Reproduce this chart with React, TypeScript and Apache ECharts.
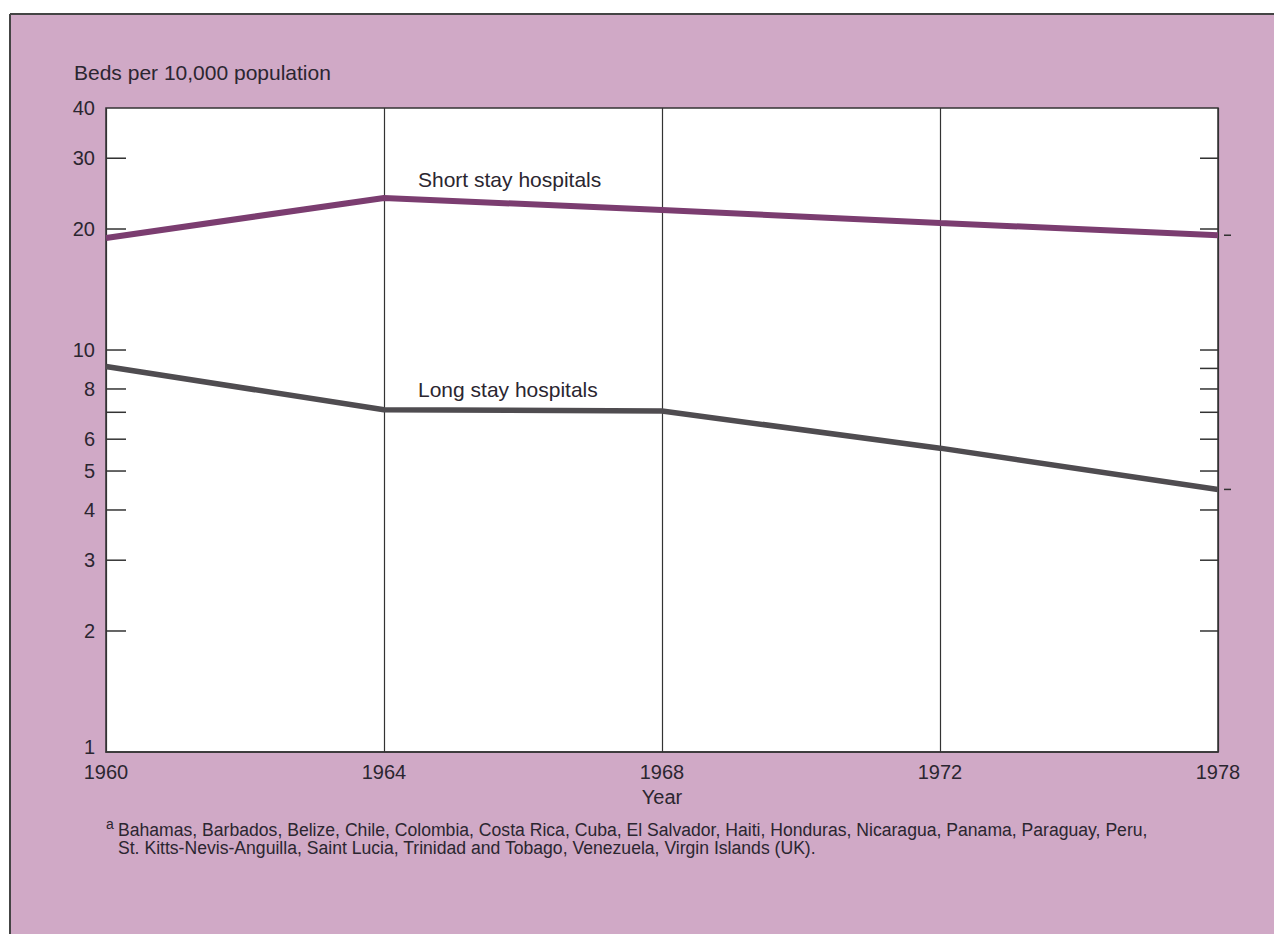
import React, { useEffect, useRef } from "react";
import * as echarts from "echarts";

const years = ["1960", "1964", "1968", "1972", "1978"];
const shortStay = [19.0, 23.9, 22.3, 20.7, 19.3];
const longStay = [9.1, 7.1, 7.05, 5.7, 4.5];
const tickValues = [2, 3, 4, 5, 6, 7, 8, 9, 10, 20, 30];
const labelValues = [1, 2, 3, 4, 5, 6, 8, 10, 20, 30, 40];
const endValues = [shortStay[shortStay.length - 1], longStay[longStay.length - 1]];

const FONT = "'Liberation Sans', Arial, Helvetica, sans-serif";
const INK = "#2b2630";

export default function App() {
  const ref = useRef<HTMLDivElement>(null);
  useEffect(() => {
    if (!ref.current) return;
    const chart = echarts.init(ref.current, null, { renderer: "svg" });
    const last = years.length - 1;
    chart.setOption({
      animation: false,
      backgroundColor: "#d0a9c6",
      grid: {
        left: 106,
        right: 56,
        top: 108,
        bottom: 182,
        show: true,
        backgroundColor: "#ffffff",
        borderColor: "#333",
        borderWidth: 1.5,
      },
      xAxis: {
        type: "category",
        data: years,
        boundaryGap: false,
        axisLine: { show: true, lineStyle: { color: "#333", width: 1.5 } },
        axisTick: { show: false },
        splitLine: { show: true, lineStyle: { color: "#333", width: 1.2 } },
        axisLabel: { fontSize: 20, fontFamily: FONT, color: INK, margin: 10 },
        name: "Year",
        nameLocation: "middle",
        nameGap: 35,
        nameTextStyle: { fontSize: 20, fontFamily: FONT, color: INK },
      },
      yAxis: {
        type: "log",
        logBase: 10,
        min: 1,
        max: 40,
        axisLine: { show: false },
        axisTick: { show: false },
        axisLabel: { show: false },
        splitLine: { show: false },
      },
      series: [
        {
          type: "line",
          data: shortStay,
          symbol: "none",
          lineStyle: { color: "#7b3d70", width: 6 },
          z: 5,
        },
        {
          type: "line",
          data: longStay,
          symbol: "none",
          lineStyle: { color: "#4f4c50", width: 5.5 },
          z: 5,
        },
        {
          type: "custom",
          data: tickValues.map((v) => [0, v]),
          silent: true,
          z: 3,
          renderItem: (params: any, api: any) => {
            const v = api.value(1);
            const l = api.coord([0, v]);
            const r = api.coord([last, v]);
            return {
              type: "group",
              children: [
                { type: "line", shape: { x1: l[0], y1: l[1], x2: l[0] + 20, y2: l[1] }, style: { stroke: "#333", lineWidth: 1.5 } },
                { type: "line", shape: { x1: r[0] - 18, y1: r[1], x2: r[0], y2: r[1] }, style: { stroke: "#333", lineWidth: 1.5 } },
              ],
            };
          },
        },
        {
          type: "custom",
          data: labelValues.map((v) => [0, v]),
          silent: true,
          z: 3,
          renderItem: (params: any, api: any) => {
            const v = api.value(1);
            const l = api.coord([0, v]);
            return {
              type: "text",
              x: l[0] - 11,
              y: v === 1 ? l[1] - 5 : l[1],
              style: {
                text: String(v),
                align: "right",
                verticalAlign: "middle",
                fontSize: 20,
                fontFamily: FONT,
                fill: INK,
              },
            };
          },
        },
        {
          type: "custom",
          data: endValues.map((v) => [last, v]),
          silent: true,
          z: 3,
          renderItem: (params: any, api: any) => {
            const p = api.coord([last, api.value(1)]);
            return {
              type: "line",
              shape: { x1: p[0] + 6, y1: p[1], x2: p[0] + 13, y2: p[1] },
              style: { stroke: "#333", lineWidth: 1.5 },
            };
          },
        },
      ],
      graphic: [
        { type: "rect", shape: { x: 0, y: 0, width: 1274, height: 14 }, style: { fill: "#fff" }, silent: true },
        { type: "rect", shape: { x: 0, y: 0, width: 10, height: 934 }, style: { fill: "#fff" }, silent: true },
        { type: "line", shape: { x1: 10, y1: 14, x2: 1274, y2: 14 }, style: { stroke: "#444", lineWidth: 2 }, silent: true },
        { type: "line", shape: { x1: 10, y1: 14, x2: 10, y2: 934 }, style: { stroke: "#444", lineWidth: 2 }, silent: true },
        {
          type: "text",
          x: 74,
          y: 72,
          style: { text: "Beds per 10,000 population", fontSize: 21, fontFamily: FONT, fill: INK, verticalAlign: "middle" },
        },
        {
          type: "text",
          x: 418,
          y: 179,
          z: 10,
          style: { text: "Short stay hospitals", fontSize: 21, fontFamily: FONT, fill: INK, verticalAlign: "middle" },
        },
        {
          type: "text",
          x: 418,
          y: 389,
          z: 10,
          style: { text: "Long stay hospitals", fontSize: 21, fontFamily: FONT, fill: INK, verticalAlign: "middle" },
        },
        {
          type: "text",
          x: 106,
          y: 824,
          style: { text: "a", fontSize: 14, fontFamily: FONT, fill: INK, verticalAlign: "middle" },
        },
        {
          type: "text",
          x: 118,
          y: 830,
          style: {
            text: "Bahamas, Barbados, Belize, Chile, Colombia, Costa Rica, Cuba, El Salvador, Haiti, Honduras, Nicaragua, Panama, Paraguay, Peru,",
            fontSize: 17.6,
            fontFamily: FONT,
            fill: INK,
            verticalAlign: "middle",
          },
        },
        {
          type: "text",
          x: 118,
          y: 848,
          style: {
            text: "St. Kitts-Nevis-Anguilla, Saint Lucia, Trinidad and Tobago, Venezuela, Virgin Islands (UK).",
            fontSize: 17.6,
            fontFamily: FONT,
            fill: INK,
            verticalAlign: "middle",
          },
        },
      ],
    });
    return () => chart.dispose();
  }, []);
  return (
    <div
      ref={ref}
      style={{ position: "absolute", left: 0, top: 0, width: 1274, height: 934 }}
    />
  );
}
